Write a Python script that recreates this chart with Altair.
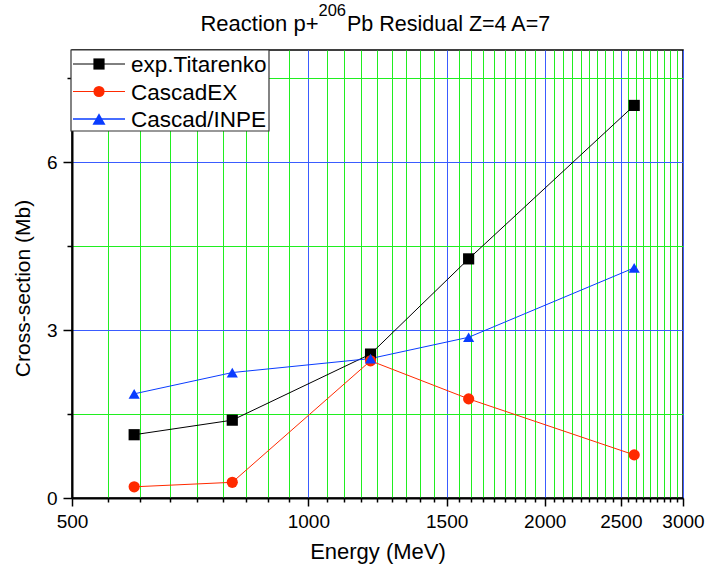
import altair as alt
import pandas as pd

# Beam energies (MeV) and cross-sections (mb) for the residual Z=4, A=7
energy = [600, 800, 1200, 1600, 2600]
titarenko = [1.13, 1.39, 2.57, 4.27, 7.01]
cascadex = [0.20, 0.28, 2.45, 1.77, 0.77]
cascad_inpe = [1.86, 2.24, 2.49, 2.87, 4.11]

series_names = ["exp.Titarenko", "CascadEX", "Cascad/INPE"]
series_values = [titarenko, cascadex, cascad_inpe]
series_colors = ["#000000", "#ff2a00", "#0a3cff"]
series_shapes = ["square", "circle", "triangle-up"]
series_widths = [1.0, 1.0, 1.4]
series_sizes = [125, 125, 170]

# Axis ticks: majors every 500 MeV with 8 minors between; y majors every 3 mb
x_ticks = [round(500 + 500 * k / 9, 4) for k in range(46)]
y_ticks = [0, 1.5, 3, 4.5, 6, 7.5]

FONT = "Liberation Sans"
GRID_MAJOR = "#3a5cff"
GRID_MINOR = "#20ee20"
W, H = 611, 448

rows = []
for name, vals in zip(series_names, series_values):
    for e, v in zip(energy, vals):
        rows.append({"series": name, "energy": e, "xs": v})
df = pd.DataFrame(rows)

x_axis = alt.Axis(
    values=x_ticks,
    labelExpr="datum.value % 500 === 0 ? format(datum.value, 'd') : ''",
    labelOverlap=False,
    labelFlush=False,
    labelFont=FONT,
    labelFontSize=19,
    labelColor="black",
    labelPadding=6,
    tickColor="black",
    tickWidth=1.5,
    tickSize={"condition": {"test": "datum.value % 500 === 0", "value": 8}, "value": 4},
    grid=True,
    gridColor={"condition": {"test": "datum.value % 500 === 0", "value": GRID_MAJOR}, "value": GRID_MINOR},
    gridWidth=1,
    gridOpacity=1,
    domainColor="black",
    domainWidth=2,
    title="Energy (MeV)",
    titleFont=FONT,
    titleFontSize=22,
    titleFontWeight="normal",
    titleColor="black",
    titleBaseline="middle",
    titleY=53,
)

y_axis = alt.Axis(
    values=y_ticks,
    labelExpr="datum.value % 3 === 0 ? format(datum.value, 'd') : ''",
    labelOverlap=False,
    labelFlush=False,
    labelFont=FONT,
    labelFontSize=19,
    labelColor="black",
    labelPadding=6,
    tickColor="black",
    tickWidth=1.5,
    tickSize={"condition": {"test": "datum.value % 3 === 0", "value": 9}, "value": 5},
    grid=True,
    gridColor={"condition": {"test": "datum.value % 3 === 0", "value": GRID_MAJOR}, "value": GRID_MINOR},
    gridWidth=1,
    gridOpacity=1,
    domainColor="black",
    domainWidth=2,
    title="Cross-section (Mb)",
    titleFont=FONT,
    titleFontSize=21,
    titleFontWeight="normal",
    titleColor="black",
    titleBaseline="middle",
    titleX=-49,
    titleY=238,
)

x_enc = alt.X("energy:Q", scale=alt.Scale(type="log", domain=[500, 3000], nice=False), axis=x_axis)
y_enc = alt.Y("xs:Q", scale=alt.Scale(domain=[0, 8], nice=False, zero=False), axis=y_axis)
color_enc = alt.Color("series:N", scale=alt.Scale(domain=series_names, range=series_colors), legend=None)
shape_enc = alt.Shape("series:N", scale=alt.Scale(domain=series_names, range=series_shapes), legend=None)
width_enc = alt.StrokeWidth("series:N", scale=alt.Scale(domain=series_names, range=series_widths), legend=None)
size_enc = alt.Size("series:N", scale=alt.Scale(domain=series_names, range=series_sizes), legend=None)

base = alt.Chart(df)
lines = base.mark_line().encode(x=x_enc, y=y_enc, color=color_enc, strokeWidth=width_enc, detail="series:N")
points = base.mark_point(filled=True, opacity=1).encode(
    x="energy:Q", y="xs:Q", color=color_enc, shape=shape_enc, size=size_enc
)

layers = [lines, points]

# Legend box in the upper-left corner of the plot
box_df = pd.DataFrame({"series": ["box"]})
layers.append(
    alt.Chart(box_df).mark_rect(fill="white", stroke="#333333", strokeWidth=1.2).encode(
        x=alt.value(-1), x2=alt.value(197), y=alt.value(0), y2=alt.value(81)
    )
)
for i, (name, col, shp, sw, sz) in enumerate(
    zip(series_names, series_colors, series_shapes, series_widths, series_sizes)
):
    row_df = pd.DataFrame({"series": [name]})
    yy = 14 + 27.5 * i
    layers.append(
        alt.Chart(row_df).mark_rule(color=col, strokeWidth=sw).encode(
            x=alt.value(1), x2=alt.value(53), y=alt.value(yy)
        )
    )
    layers.append(
        alt.Chart(row_df).mark_point(filled=True, size=sz, opacity=1, color=col, shape=shp).encode(
            x=alt.value(27), y=alt.value(yy)
        )
    )
    layers.append(
        alt.Chart(row_df).mark_text(align="left", baseline="middle", font=FONT, fontSize=22.5, color="black").encode(
            x=alt.value(59), y=alt.value(yy + 1), text="series:N"
        )
    )

# Title with a superscript mass number
title_df = pd.DataFrame({"a": ["Reaction p+"], "b": ["206"], "c": ["Pb Residual Z=4 A=7"]})
layers.append(
    alt.Chart(title_df).mark_text(align="right", baseline="alphabetic", font=FONT, fontSize=22, color="black").encode(
        x=alt.value(246.5), y=alt.value(-19), text="a:N"
    )
)
layers.append(
    alt.Chart(title_df).mark_text(align="left", baseline="alphabetic", font=FONT, fontSize=16.5, color="black").encode(
        x=alt.value(246.5), y=alt.value(-34), text="b:N"
    )
)
layers.append(
    alt.Chart(title_df).mark_text(align="left", baseline="alphabetic", font=FONT, fontSize=21.5, color="black").encode(
        x=alt.value(275), y=alt.value(-19), text="c:N"
    )
)

chart = (
    alt.layer(*layers)
    .properties(
        width=W,
        height=H,
        padding={"left": 72, "top": 50, "right": 23, "bottom": 71},
        autosize=alt.AutoSizeParams(type="none"),
        background="white",
    )
    .configure_view(stroke="black", strokeWidth=1.5)
)

chart.save("out.html", embed_options={"renderer": "svg", "actions": False})
